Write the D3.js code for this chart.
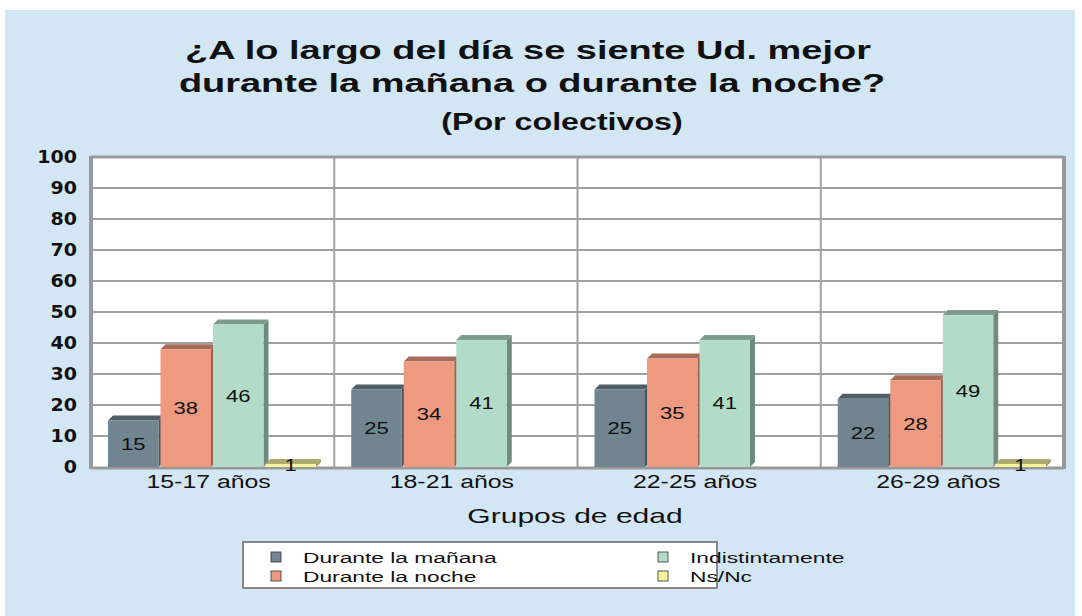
<!DOCTYPE html>
<html>
<head>
<meta charset="utf-8">
<script src="https://cdn.jsdelivr.net/npm/d3@7"></script>
<style>
  body { margin: 0; background: #fff; }
  text { font-family: "Liberation Sans", Arial, sans-serif; fill: #111; }
</style>
</head>
<body>
<div id="chart"></div>
<script>
// data
const groups = ["15-17 años", "18-21 años", "22-25 años", "26-29 años"];
const series = ["Durante la mañana", "Durante la noche", "Indistintamente", "Ns/Nc"];
const manana = [15, 25, 25, 22];
const noche = [38, 34, 35, 28];
const indist = [46, 41, 41, 49];
const nsnc = [1, 0, 0, 1];
const yTicks = [0, 10, 20, 30, 40, 50, 60, 70, 80, 90, 100];
const colors = ["#718591", "#ee9a80", "#b2dcc7", "#f6f29c"];

const width = 1082, height = 616;
const margin = {top: 157, right: 18, bottom: 149, left: 91};

const svg = d3.select("#chart").append("svg").attr("width", width).attr("height", height);

// background panel
svg.append("rect").attr("x", 5).attr("y", 10).attr("width", 1070).attr("height", 606).attr("fill", "#d3e6f4");

// stretched text helper (text in the original is wider than normal)
let stxt = function(x, y, str, size, weight, anchor, sx){
    return svg.append("text")
        .attr("transform", "translate(" + x + "," + y + ") scale(" + sx + ",1)")
        .attr("text-anchor", anchor)
        .style("font-size", size + "px")
        .style("font-weight", weight)
        .text(str);
}

// titles
stxt(528, 59, "¿A lo largo del día se siente Ud. mejor", 26, "bold", "middle", 1.46);
stxt(532, 92, "durante la mañana o durante la noche?", 26, "bold", "middle", 1.46);
stxt(562, 130, "(Por colectivos)", 23, "bold", "middle", 1.4);

const x0 = d3.scaleBand().domain(groups).range([margin.left, width - margin.right]);
const x1 = d3.scaleBand().domain(series).range([17, 227]);
const yScale = d3.scaleLinear().domain([0, 100]).range([height - margin.bottom, margin.top]);

// plot area
svg.append("rect").attr("x", margin.left).attr("y", margin.top)
    .attr("width", width - margin.right - margin.left).attr("height", yScale(0) - margin.top)
    .attr("fill", "#fff");

// grid
svg.append("g").selectAll("line").data(yTicks.filter(d => d > 0)).enter().append("line")
    .attr("x1", margin.left).attr("x2", width - margin.right)
    .attr("y1", d => yScale(d)).attr("y2", d => yScale(d))
    .attr("stroke", "#a0a0a0").attr("stroke-width", 2);
svg.append("g").selectAll("line").data(groups.slice(1)).enter().append("line")
    .attr("x1", d => x0(d)).attr("x2", d => x0(d))
    .attr("y1", margin.top).attr("y2", yScale(0))
    .attr("stroke", "#a0a0a0").attr("stroke-width", 2);

// frame
svg.append("line").attr("x1", margin.left).attr("x2", margin.left).attr("y1", margin.top - 1).attr("y2", yScale(0) + 2)
    .attr("stroke", "#999").attr("stroke-width", 4);
svg.append("line").attr("x1", width - margin.right).attr("x2", width - margin.right).attr("y1", margin.top - 1).attr("y2", yScale(0) + 2)
    .attr("stroke", "#999").attr("stroke-width", 4);
svg.append("line").attr("x1", margin.left).attr("x2", width - margin.right).attr("y1", margin.top).attr("y2", margin.top)
    .attr("stroke", "#999").attr("stroke-width", 3);
svg.append("line").attr("x1", margin.left).attr("x2", width - margin.right).attr("y1", yScale(0) + 1).attr("y2", yScale(0) + 1)
    .attr("stroke", "#999").attr("stroke-width", 3);

// y labels
yTicks.forEach(function(t){
    stxt(77, yScale(t) + 6, t, 17, "bold", "end", 1.12).style("font-family", "'DejaVu Sans', sans-serif");
});

// bars
const vals = [manana, noche, indist, nsnc];
const rows = [];
groups.forEach(function(g, i){
    series.forEach(function(s, j){
        if (vals[j][i] > 0) rows.push({group: g, serie: s, value: vals[j][i], color: colors[j]});
    });
});

const dep = 5;
const bw = x1.bandwidth() - 2;
const bars = svg.append("g").selectAll("g").data(rows).enter().append("g")
    .attr("transform", d => "translate(" + (x0(d.group) + x1(d.serie)) + ",0)");

// side face
bars.append("path")
    .attr("d", d => {
        const yt = yScale(d.value), yb = yScale(0);
        return "M" + bw + "," + yt + " L" + (bw + dep) + "," + (yt - dep) + " L" + (bw + dep) + "," + (yb - dep) + " L" + bw + "," + yb + "Z";
    })
    .attr("fill", d => d3.color(d.color).darker(1.3));
// top face
bars.append("path")
    .attr("d", d => {
        const yt = yScale(d.value);
        return "M0," + yt + " L" + dep + "," + (yt - dep) + " L" + (bw + dep) + "," + (yt - dep) + " L" + bw + "," + yt + "Z";
    })
    .attr("fill", d => d3.color(d.color).darker(1.0));
// front face
bars.append("rect")
    .attr("x", 0).attr("y", d => yScale(d.value))
    .attr("width", bw).attr("height", d => yScale(0) - yScale(d.value))
    .attr("fill", d => d.color);

// value labels
rows.forEach(function(d){
    const cx = x0(d.group) + x1(d.serie) + bw / 2;
    const cy = (yScale(d.value) + yScale(0)) / 2;
    stxt(cx, cy + 6, d.value, 17, "normal", "middle", 1.3);
});

// x labels
groups.forEach(function(g){
    stxt(x0(g) + x0.bandwidth() / 2 - 4, 488, g, 18, "normal", "middle", 1.38);
});
stxt(575, 523, "Grupos de edad", 21, "normal", "middle", 1.43);

// legend
svg.append("rect").attr("x", 243).attr("y", 542).attr("width", 474).attr("height", 46)
    .attr("fill", "#fff").attr("stroke", "#888").attr("stroke-width", 2);
const legPos = [[276, 557], [276, 576], [663, 557], [663, 576]];
series.forEach(function(s, i){
    svg.append("rect").attr("x", legPos[i][0] - 5).attr("y", legPos[i][1] - 5).attr("width", 10).attr("height", 10)
        .attr("fill", colors[i]).attr("stroke", "#333").attr("stroke-width", 0.8);
    stxt(legPos[i][0] + 27, legPos[i][1] + 6, s, 15.5, "normal", "start", 1.47);
});
</script>
</body>
</html>
